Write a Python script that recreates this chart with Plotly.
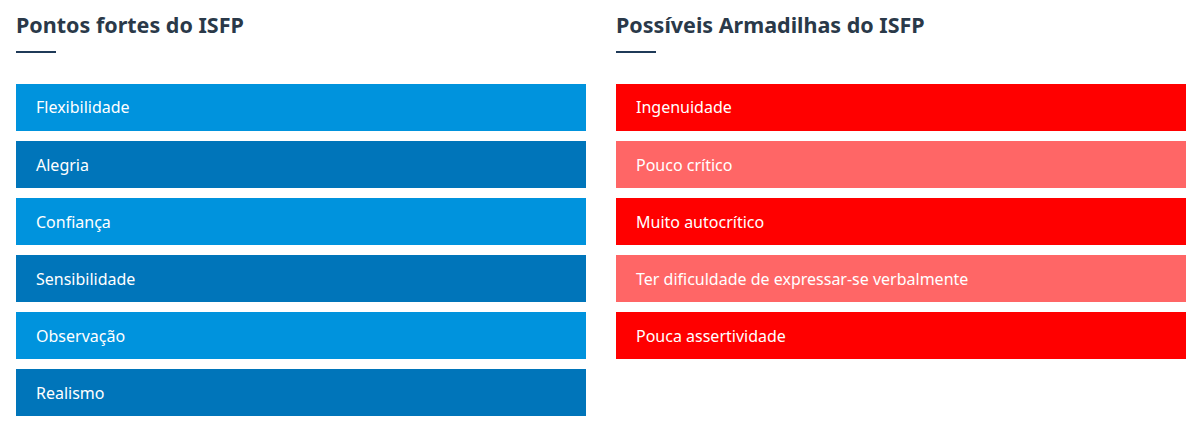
import plotly.graph_objects as go

OFF = 8  # page body margin of the browser
W, H = 1200 - 2 * OFF, 427 - OFF

strengths = ["Flexibilidade", "Alegria", "Confiança", "Sensibilidade", "Observação", "Realismo"]
strength_colors = ["#0093DD", "#0075BA", "#0093DD", "#0075BA", "#0093DD", "#0075BA"]
pitfalls = ["Ingenuidade", "Pouco crítico", "Muito autocrítico",
            "Ter dificuldade de expressar-se verbalmente", "Pouca assertividade"]
pitfall_colors = ["#FF0000", "#FF6666", "#FF0000", "#FF6666", "#FF0000"]
titles = ["Pontos fortes do ISFP", "Possíveis Armadilhas do ISFP"]
bar_value = 1

FONT = "Noto Sans"
TITLE_COLOR = "#2A3949"

fig = go.Figure()

def px_x(p):
    return (p - OFF) / W

def px_y(p):
    return 1 - (p - OFF) / H

slots = 6
top, bottom = 79, 79 + 57 * slots

panels = [
    (strengths, strength_colors, "x", "y", 16, 586),
    (pitfalls, pitfall_colors, "x2", "y2", 616, 1186),
]

annotations = []
shapes = []
for i, (labels, colors, xa, ya, x0, x1) in enumerate(panels):
    idx = list(range(len(labels)))
    fig.add_trace(go.Bar(
        y=idx, x=[bar_value] * len(labels), orientation="h",
        marker=dict(color=colors, line=dict(width=0)),
        width=47 / 57, xaxis=xa, yaxis=ya, hoverinfo="skip", showlegend=False,
    ))
    for j, lab in enumerate(labels):
        annotations.append(dict(
            x=0, y=j, xref=xa, yref=ya, text=lab, showarrow=False,
            xanchor="left", yanchor="middle", xshift=18,
            font=dict(family=FONT, size=16, color="white"),
        ))
    annotations.append(dict(
        x=px_x(x0 - 2), y=px_y(25), xref="paper", yref="paper", text="<b>" + titles[i] + "</b>",
        showarrow=False, xanchor="left", yanchor="middle",
        font=dict(family=FONT, size=21.5, color=TITLE_COLOR),
    ))
    shapes.append(dict(
        type="line", xref="paper", yref="paper",
        x0=px_x(x0), x1=px_x(x0 + 40), y0=px_y(52), y1=px_y(52),
        line=dict(color="#1F3A58", width=2),
    ))

axis_common = dict(showgrid=False, zeroline=False, showticklabels=False, fixedrange=True)
fig.update_layout(
    width=W, height=H, margin=dict(l=0, r=0, t=0, b=0),
    paper_bgcolor="white", plot_bgcolor="white",
    xaxis=dict(domain=[px_x(16), px_x(586)], range=[0, 1], **axis_common),
    xaxis2=dict(domain=[px_x(616), px_x(1186)], range=[0, 1], **axis_common),
    yaxis=dict(domain=[px_y(bottom), px_y(top)], range=[slots - 0.5, -0.5], **axis_common),
    yaxis2=dict(domain=[px_y(bottom), px_y(top)], range=[slots - 0.5, -0.5], anchor="x2", **axis_common),
    annotations=annotations, shapes=shapes, bargap=0,
)

fig.write_html("out.html")
